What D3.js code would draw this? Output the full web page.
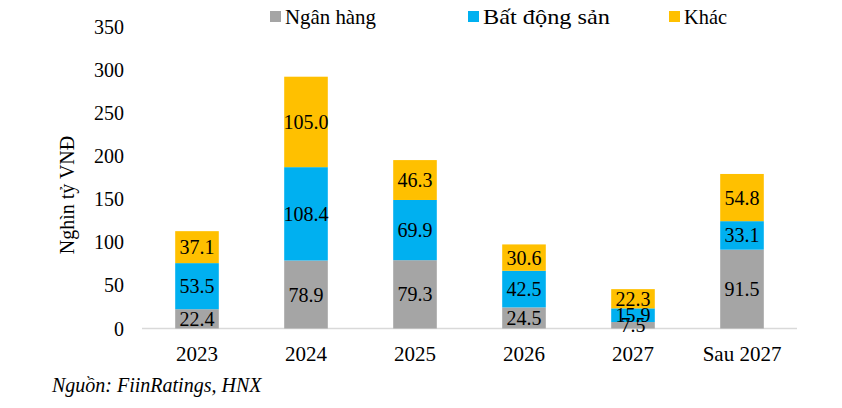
<!DOCTYPE html>
<html><head><meta charset="utf-8">
<script src="https://cdn.jsdelivr.net/npm/d3@7"></script>
<style>body{margin:0;background:#fff}svg{display:block}</style>
</head><body><svg id="c" width="842" height="408" font-family="'Liberation Serif', Tinos, 'Times New Roman', 'DejaVu Serif', serif"></svg>
<script>
const categories = ["2023","2024","2025","2026","2027","Sau 2027"];
const seriesNames = ["Ngân hàng","Bất động sản","Khác"];
const nganHang = [22.4,78.9,79.3,24.5,7.5,91.5];
const batDongSan = [53.5,108.4,69.9,42.5,15.9,33.1];
const khac = [37.1,105.0,46.3,30.6,22.3,54.8];
const yTicks = [0,50,100,150,200,250,300,350];
const colors = ["#a5a5a5","#00b0f0","#ffc000"];

const svg = d3.select("#c");
const x = d3.scaleBand().domain(categories).range([142.5,796.5]).paddingInner(0.6).paddingOuter(0.3);
const y = d3.scaleLinear().domain([0,350]).range([328.5,27]);

const rows = categories.map((c,i)=>({cat:c, s0:nganHang[i], s1:batDongSan[i], s2:khac[i]}));
const stack = d3.stack().keys(["s0","s1","s2"])(rows);

svg.append("g").selectAll("text").data(yTicks).join("text")
  .attr("x",124).attr("y",d=>y(d)).attr("dy","0.35em").attr("text-anchor","end")
  .attr("font-size",20).text(d=>d);

svg.append("line").attr("x1",142).attr("x2",797).attr("y1",y(0)).attr("y2",y(0))
  .attr("stroke","#d9d9d9").attr("stroke-width",1.5);

stack.forEach((layer,li)=>{
  svg.append("g").selectAll("rect").data(layer).join("rect")
    .attr("x",d=>x(d.data.cat)).attr("width",x.bandwidth())
    .attr("y",d=>y(d[1])).attr("height",d=>y(d[0])-y(d[1]))
    .attr("fill",colors[li]);
});
stack.forEach((layer,li)=>{
  svg.append("g").selectAll("text").data(layer).join("text")
    .attr("x",d=>x(d.data.cat)+x.bandwidth()/2)
    .attr("y",d=>y((d[0]+d[1])/2)).attr("dy","0.35em").attr("text-anchor","middle")
    .attr("font-size",20).text(d=>(d[1]-d[0]).toFixed(1));
});

svg.append("g").selectAll("text").data(categories).join("text")
  .attr("x",d=>x(d)+x.bandwidth()/2).attr("y",354).attr("dy","0.35em").attr("text-anchor","middle")
  .attr("font-size",21).text(d=>d);

svg.append("text").attr("transform","translate(67,195) rotate(-90)").attr("text-anchor","middle")
  .attr("dy","0.35em").attr("font-size",20).text("Nghìn tỷ VNĐ");

const legX = [270,468,669];
const legW = [91,127,43];
seriesNames.forEach((n,i)=>{
  svg.append("rect").attr("x",legX[i]).attr("y",11).attr("width",11).attr("height",11).attr("fill",colors[i]);
  svg.append("text").attr("x",legX[i]+15).attr("y",16.5).attr("dy","0.35em").attr("font-size",21)
    .attr("textLength",legW[i]).attr("lengthAdjust","spacingAndGlyphs").text(n);
});

svg.append("text").attr("x",52).attr("y",385).attr("dy","0.35em").attr("font-size",20).attr("font-style","italic")
  .text("Nguồn: FiinRatings, HNX");
</script></body></html>
